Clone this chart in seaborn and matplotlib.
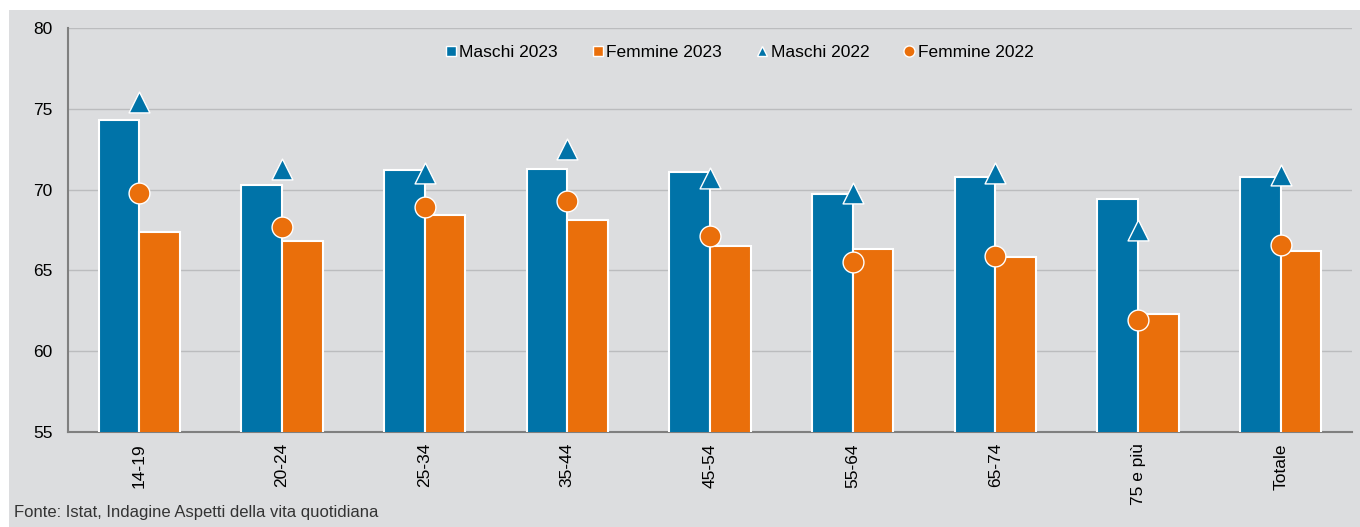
import matplotlib
matplotlib.use('Agg')
import matplotlib.pyplot as plt
from matplotlib.lines import Line2D
from matplotlib.patches import Rectangle
import seaborn as sns
import numpy as np
import pandas as pd

# data
eta = ['14-19', '20-24', '25-34', '35-44', '45-54', '55-64', '65-74', '75 e più', 'Totale']
maschi_2023 = [74.3, 70.3, 71.2, 71.3, 71.1, 69.7, 70.8, 69.4, 70.8]
femmine_2023 = [67.4, 66.8, 68.4, 68.1, 66.5, 66.3, 65.8, 62.3, 66.2]
maschi_2022 = [75.4, 71.3, 71.0, 72.5, 70.7, 69.8, 71.0, 67.5, 70.9]
femmine_2022 = [69.8, 67.7, 68.9, 69.3, 67.1, 65.5, 65.9, 61.9, 66.6]

blu = '#0073a8'
arancio = '#ea6f0b'
sfondo = '#dcdddf'

sns.set_style('white')
plt.rcParams['font.family'] = ['Liberation Sans', 'DejaVu Sans']

bars = pd.DataFrame({
    'eta': eta * 2,
    'valore': maschi_2023 + femmine_2023,
    'serie': ['Maschi 2023'] * len(eta) + ['Femmine 2023'] * len(eta),
})
punti = pd.DataFrame({'eta': eta, 'm22': maschi_2022, 'f22': femmine_2022})

fig = plt.figure(figsize=(13.6, 5.27), dpi=100)
fig.patches.append(Rectangle((9 / 1360, 0), 1, 1 - 10 / 527, transform=fig.transFigure,
                             facecolor=sfondo, edgecolor='none', zorder=-10))
ax = fig.add_axes([68 / 1360, 1 - 432 / 527, (1352 - 68) / 1360, (432 - 28) / 527])
ax.set_facecolor(sfondo)

sns.barplot(data=bars, x='eta', y='valore', hue='serie', order=eta,
            palette={'Maschi 2023': blu, 'Femmine 2023': arancio}, saturation=1,
            width=0.57, gap=0, edgecolor='white', linewidth=1.5, ax=ax, legend=False, zorder=3)
sns.stripplot(data=punti, x='eta', y='m22', order=eta, jitter=False, marker='^', size=15,
              color=blu, edgecolor='white', linewidth=1, ax=ax, zorder=5)
sns.stripplot(data=punti, x='eta', y='f22', order=eta, jitter=False, marker='o', size=15,
              color=arancio, edgecolor='white', linewidth=1, ax=ax, zorder=5)

ax.set_ylim(55, 80)
ax.set_xlim(-0.5, len(eta) - 0.5)
ax.set_yticks(np.arange(55, 81, 5))
ax.yaxis.grid(True, color='#bbbcbe', linewidth=1, zorder=0)
ax.set_axisbelow(True)
ax.set_xlabel('')
ax.set_ylabel('')

for s in ['top', 'right']:
    ax.spines[s].set_visible(False)
for s in ['left', 'bottom']:
    ax.spines[s].set_color('#7f7f7f')
    ax.spines[s].set_linewidth(1.5)

ax.tick_params(axis='y', length=5, color='#7f7f7f', width=1.2, labelsize=12.5, pad=6,
               labelcolor='black')
ax.tick_params(axis='x', which='major', length=0, labelsize=12.5, labelrotation=90, pad=8,
               labelcolor='black')
ax.set_xticks(np.arange(len(eta) + 1) - 0.5, minor=True)
ax.tick_params(axis='x', which='minor', length=5, color='#7f7f7f', width=1.2)

handles = [
    Line2D([], [], linestyle='', marker='s', markersize=7, color=blu, markeredgecolor='white'),
    Line2D([], [], linestyle='', marker='s', markersize=7, color=arancio, markeredgecolor='white'),
    Line2D([], [], linestyle='', marker='^', markersize=7, color=blu, markeredgecolor='white'),
    Line2D([], [], linestyle='', marker='o', markersize=8, color=arancio, markeredgecolor='white'),
]
labels = ['Maschi 2023', 'Femmine 2023', 'Maschi 2022', 'Femmine 2022']
leg = ax.legend(handles, labels, ncol=4, frameon=False, loc='center', bbox_to_anchor=(0.523, 0.94),
                fontsize=12.5, handlelength=0.6, handletextpad=0.2, columnspacing=2.0)
for t in leg.get_texts():
    t.set_color('black')

fig.text(14 / 1360, 1 - 513 / 527, 'Fonte: Istat, Indagine Aspetti della vita quotidiana',
         family=['Liberation Sans Narrow', 'Liberation Sans'],
         fontsize=12, color='#333333', va='center', ha='left')

fig.savefig('out.png', dpi=100, facecolor='white')
